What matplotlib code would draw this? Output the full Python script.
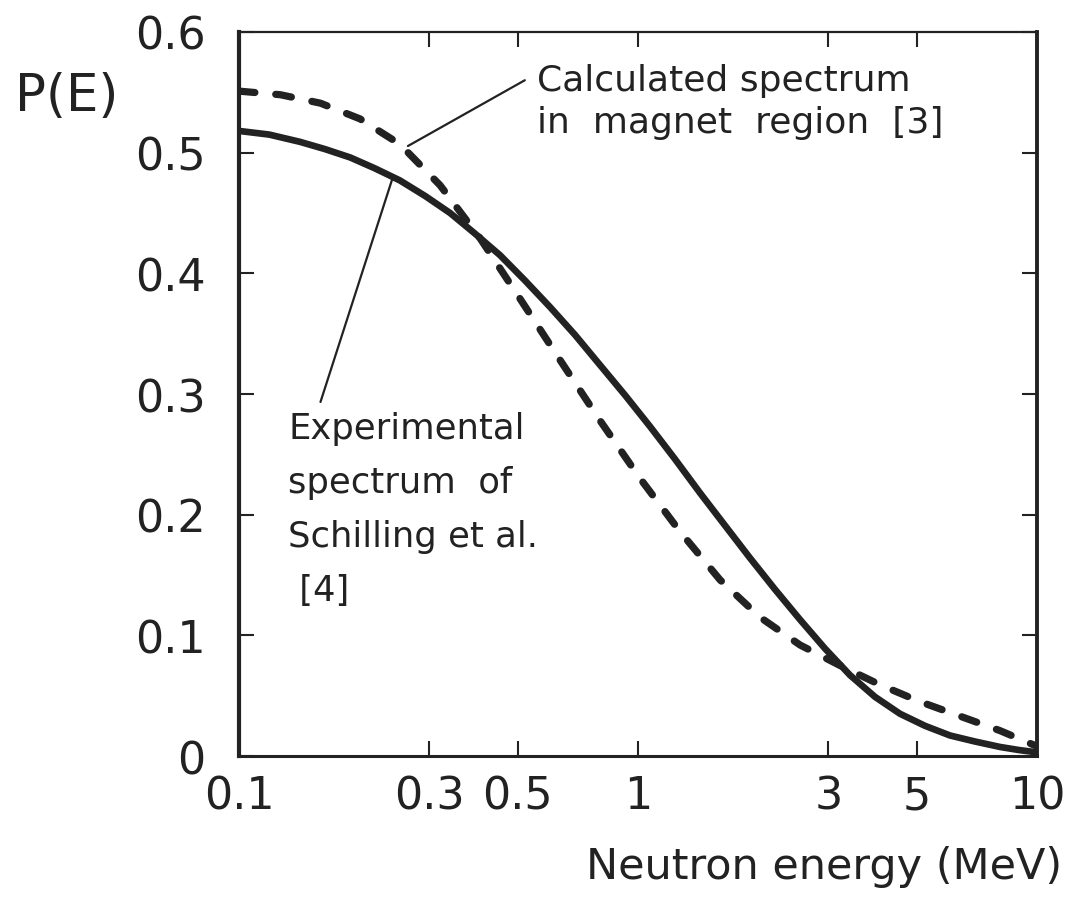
import matplotlib
matplotlib.use("Agg")
import matplotlib.pyplot as plt

# curves (energy in MeV, P(E))
e_exp = [0.100, 0.119, 0.142, 0.164, 0.190, 0.219, 0.253, 0.293, 0.338, 0.390,
         0.451, 0.521, 0.602, 0.695, 0.803, 0.928, 1.072, 1.238, 1.430, 1.652,
         1.909, 2.205, 2.547, 2.942, 3.398, 3.926, 4.535, 5.240, 6.053, 6.993,
         8.077, 8.989, 10.0]
p_exp = [0.518, 0.515, 0.509, 0.503, 0.496, 0.487, 0.477, 0.464, 0.450, 0.433,
         0.415, 0.394, 0.372, 0.349, 0.324, 0.299, 0.273, 0.246, 0.218, 0.191,
         0.164, 0.138, 0.113, 0.089, 0.067, 0.049, 0.035, 0.025, 0.017, 0.012,
         0.0075, 0.005, 0.003]

e_calc = [0.100, 0.127, 0.160, 0.201, 0.253, 0.319, 0.402, 0.506, 0.638, 0.803,
          1.012, 1.274, 1.605, 2.022, 2.547, 3.208, 4.041, 5.091, 6.413, 8.078, 10.0]
p_calc = [0.551, 0.548, 0.541, 0.528, 0.507, 0.473, 0.429, 0.379, 0.328, 0.278,
          0.230, 0.186, 0.146, 0.115, 0.092, 0.075, 0.059, 0.045, 0.033, 0.021, 0.008]

x_ticks = [0.1, 0.3, 0.5, 1, 3, 5, 10]
x_ticklabels = ["0.1", "0.3", "0.5", "1", "3", "5", "10"]
y_ticks = [0, 0.1, 0.2, 0.3, 0.4, 0.5, 0.6]
y_ticklabels = ["0", "0.1", "0.2", "0.3", "0.4", "0.5", "0.6"]

ink = "#222222"
plt.rcParams["font.family"] = ["DejaVu Sans"]

fig = plt.figure(figsize=(10.7, 9.04), dpi=100)
ax = fig.add_axes([0.2234, 0.1626, 0.7458, 0.8009])

ax.plot(e_exp, p_exp, color=ink, lw=4.8, solid_capstyle="butt",
        solid_joinstyle="round")
ax.plot(e_calc, p_calc, color=ink, lw=5.2, linestyle=(0, (2.2, 2.9)),
        dash_capstyle="round", dash_joinstyle="round")

ax.set_xscale("log")
ax.set_xlim(0.1, 10)
ax.set_ylim(0, 0.6)
ax.set_xticks(x_ticks)
ax.set_xticklabels(x_ticklabels)
ax.minorticks_off()
ax.set_yticks(y_ticks)
ax.set_yticklabels(y_ticklabels)

ax.tick_params(axis="both", direction="in", length=11, width=1.5, color=ink,
               labelsize=32, labelcolor=ink, top=True, right=True)
ax.tick_params(axis="x", pad=13)
ax.tick_params(axis="y", pad=24)

for side, lw in [("left", 3), ("right", 2.8), ("bottom", 2.2), ("top", 1.6)]:
    ax.spines[side].set_linewidth(lw)
    ax.spines[side].set_color(ink)

ax.set_xlabel("Neutron energy (MeV)", fontsize=31, color=ink, loc="right")
ax.xaxis.set_label_coords(1.032, -0.152)
ax.xaxis.label.set_horizontalalignment("right")
ax.xaxis.label.set_verticalalignment("center")
ax.set_ylabel("P(E)", fontsize=37, color=ink, rotation=0, ha="center", va="center")
ax.yaxis.set_label_coords(-0.2155, 0.911)

# annotations
ax.annotate("Calculated spectrum\nin  magnet  region  [3]",
            xy=(0.265, 0.5055), xytext=(0.3734, 0.905),
            textcoords="axes fraction", fontsize=26, color=ink,
            ha="left", va="center", linespacing=1.3,
            arrowprops=dict(arrowstyle="-", color=ink, lw=1.6,
                            shrinkA=0, shrinkB=0,
                            relpos=(-0.03, 0.77)))
ax.annotate("", xy=(0.243, 0.4798), xytext=(0.160, 0.2934),
            arrowprops=dict(arrowstyle="-", color=ink, lw=1.6,
                            shrinkA=0, shrinkB=0))
ax.text(0.0614, 0.341, "Experimental\nspectrum  of\nSchilling et al.\n [4]",
        transform=ax.transAxes, fontsize=25.5, color=ink,
        ha="left", va="center", linespacing=1.74)

fig.savefig("out.png", dpi=100)
